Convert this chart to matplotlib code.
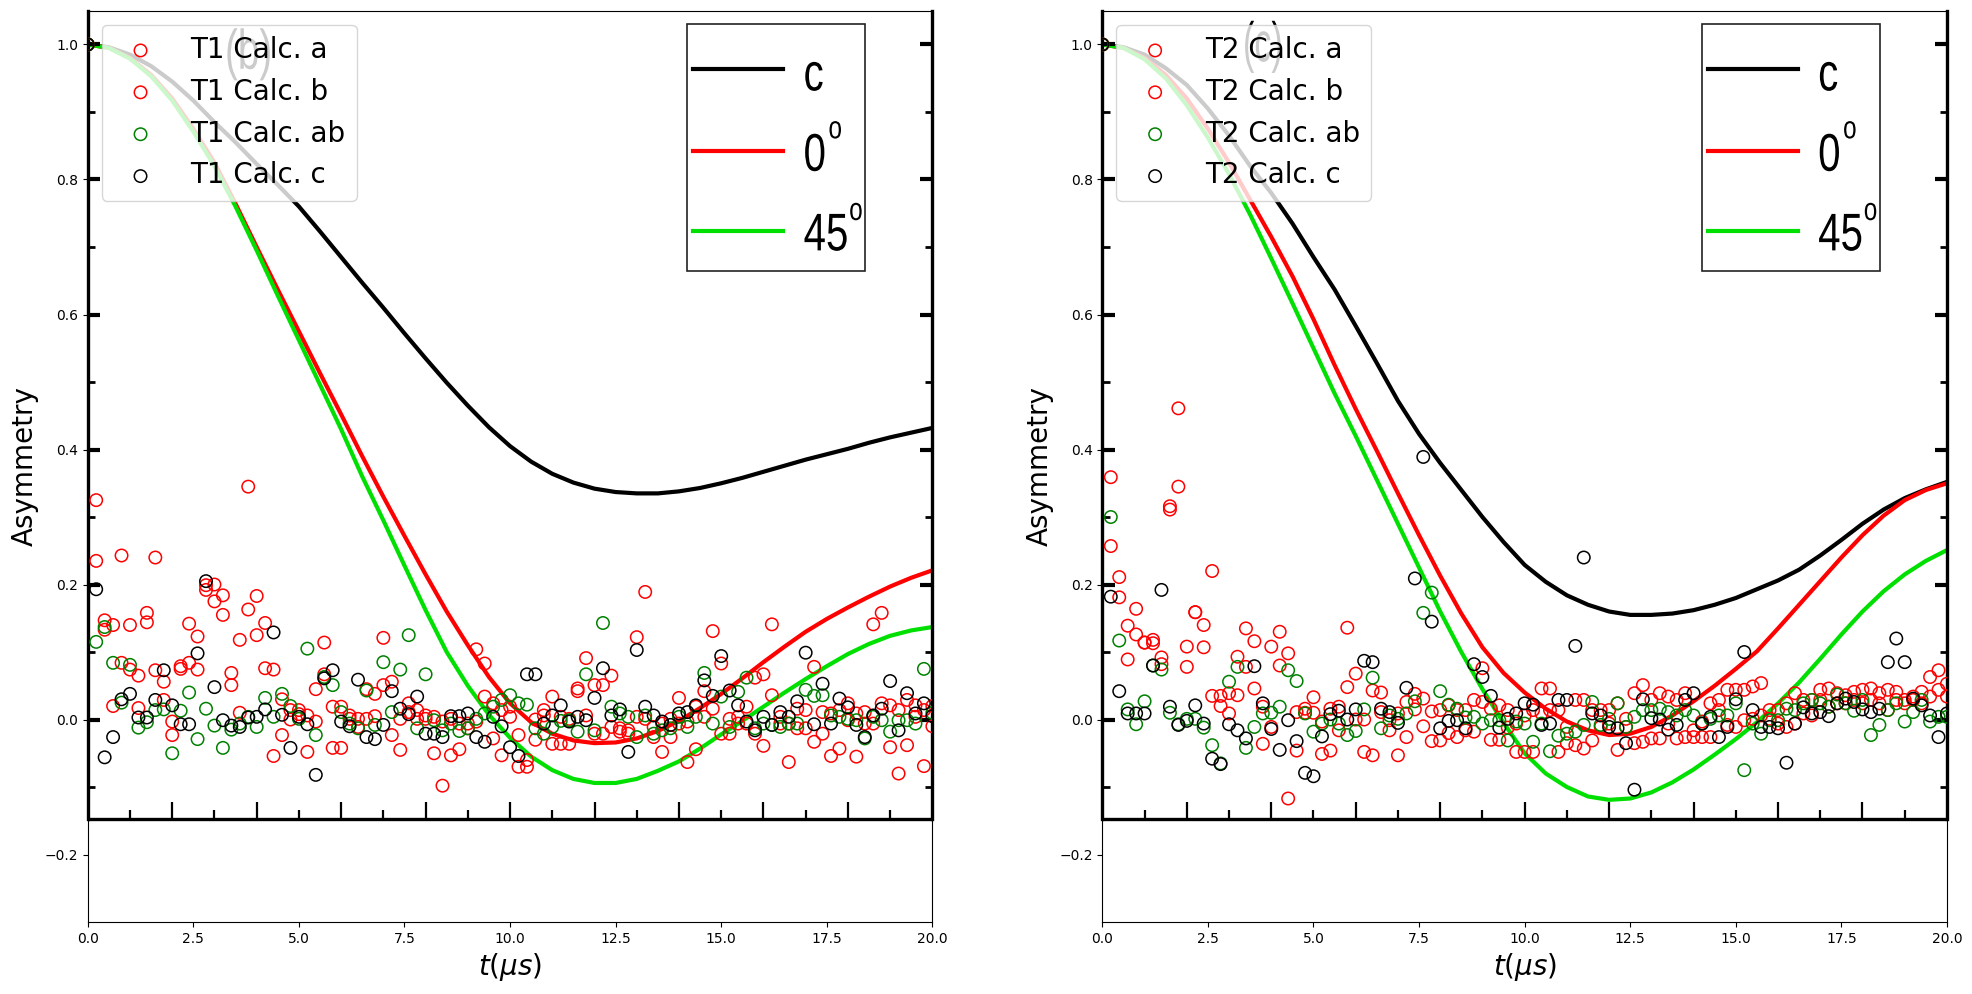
"""Muon asymmetry panels: calculated T1 / T2 points over the digitised reference figure."""

import numpy as np
import matplotlib
matplotlib.use("Agg")
import matplotlib.pyplot as plt
from matplotlib.patches import Rectangle, PathPatch
from matplotlib.textpath import TextPath
from matplotlib.font_manager import FontProperties
from matplotlib.transforms import Affine2D

# time grid of the calculated points (us)
T_US = np.linspace(0, 20, 101)

# ---- T1 calculated asymmetry (t = 0.2 ... 20.0, t = 0 is 1.0) ----
T1_A = [0.325, 0.147, 0.14, 0.243, 0.14, 0.065, 0.158, 0.24, 0.056, -0.003,
        0.079, 0.142, 0.123, 0.192, 0.2, 0.184, 0.069, 0.118, 0.345, 0.183,
        0.143, 0.074, 0.03, 0.014, 0.014, -0.048, 0.045, 0.114, 0.019, 0.019,
        0.006, 0.001, 0.045, 0.038, 0.121, 0.056, -0.045, 0.024, 0.014, 0.006,
        0.004, -0.098, -0.053, -0.044, -0.013, 0.104, 0.083, -0.028, -0.053, 0.004,
        -0.023, -0.07, 0.0, 0.014, 0.034, -0.036, -0.036, 0.046, 0.091, 0.051,
        0.051, 0.065, -0.013, -0.016, 0.122, 0.189, -0.011, -0.048, 0.001, 0.032,
        -0.063, -0.044, 0.042, 0.131, 0.083, 0.001, -0.006, -0.006, 0.062, 0.067,
        0.141, -0.006, -0.063, 0.016, 0.014, 0.078, 0.011, -0.054, -0.043, 0.024,
        -0.055, 0.011, 0.141, 0.158, -0.041, -0.08, -0.038, 0.021, -0.069, 0.02]
T1_B = [0.235, 0.133, 0.02, 0.084, 0.074, 0.017, 0.144, 0.073, 0.029, -0.023,
        0.075, 0.084, 0.074, 0.199, 0.175, 0.155, 0.051, 0.01, 0.163, 0.125,
        0.076, -0.054, -0.023, 0.0, 0.008, 0.006, -0.003, 0.067, -0.042, -0.042,
        0.001, -0.011, 0.001, 0.005, 0.051, -0.023, 0.001, 0.011, 0.001, 0.001,
        -0.05, -0.003, 0.001, -0.006, -0.006, -0.003, 0.034, 0.024, 0.014, 0.019,
        -0.07, -0.06, -0.03, 0.006, -0.036, 0.004, 0.001, 0.042, 0.006, -0.021,
        -0.021, -0.011, -0.018, -0.021, 0.004, 0.001, -0.026, -0.006, -0.026, -0.006,
        -0.003, 0.019, 0.004, 0.016, -0.021, -0.021, 0.004, 0.019, -0.021, -0.039,
        0.036, 0.004, -0.006, -0.013, -0.013, -0.033, -0.021, 0.009, 0.014, -0.001,
        0.009, -0.006, -0.006, 0.024, 0.021, 0.014, 0.029, 0.004, 0.014, -0.01]
T1_AB = [0.115, 0.137, 0.084, 0.025, 0.081, -0.012, -0.004, 0.014, 0.015, -0.05,
         0.013, 0.04, -0.029, 0.016, -0.009, -0.042, -0.015, -0.006, 0.004, -0.011,
         0.032, 0.004, 0.038, 0.02, 0.001, 0.105, -0.023, 0.063, 0.051, 0.011,
         -0.006, -0.013, 0.043, -0.008, 0.085, 0.011, 0.074, 0.125, -0.013, 0.067,
         -0.001, -0.016, -0.006, -0.017, -0.013, 0.001, 0.009, 0.019, 0.029, 0.036,
         0.024, 0.022, -0.013, -0.021, -0.011, -0.002, -0.001, -0.018, 0.067, -0.016,
         0.143, 0.019, 0.009, 0.004, -0.026, 0.006, -0.021, -0.016, -0.013, 0.004,
         -0.011, 0.004, 0.069, -0.006, 0.034, -0.011, 0.041, 0.062, -0.013, -0.006,
         -0.008, -0.011, -0.006, -0.006, 0.044, 0.035, 0.036, 0.006, 0.004, 0.001,
         -0.001, -0.028, 0.004, -0.001, -0.018, -0.001, -0.001, -0.006, 0.075, 0.01]
T1_C = [0.193, -0.056, -0.026, 0.03, 0.038, 0.003, 0.003, 0.029, 0.073, 0.021,
        -0.007, -0.007, 0.098, 0.205, 0.048, -0.001, -0.009, -0.011, 0.003, 0.004,
        0.015, 0.129, 0.007, -0.042, 0.004, -0.007, -0.082, 0.061, 0.073, -0.003,
        -0.01, 0.059, -0.026, -0.029, -0.008, 0.042, 0.016, 0.008, 0.034, -0.021,
        -0.021, -0.026, 0.005, 0.005, 0.009, -0.026, -0.033, 0.004, -0.01, -0.041,
        -0.054, 0.067, 0.067, -0.006, 0.006, 0.021, -0.003, 0.004, -0.001, 0.032,
        0.076, 0.006, 0.015, -0.048, 0.103, 0.019, 0.006, -0.003, -0.008, 0.009,
        0.011, 0.021, 0.058, 0.035, 0.094, 0.043, 0.021, -0.003, -0.016, 0.004,
        -0.008, 0.011, 0.004, 0.027, 0.099, -0.007, 0.053, -0.006, 0.031, 0.018,
        -0.008, -0.026, 0.006, 0.016, 0.057, -0.016, 0.039, 0.009, 0.024, 0.005]

# ---- T2 calculated asymmetry ----
T2_A = [0.359, 0.211, 0.139, 0.164, 0.114, 0.118, 0.092, 0.316, 0.461, 0.108,
        0.159, 0.14, 0.22, 0.035, 0.039, 0.093, 0.135, 0.116, -0.036, 0.108,
        0.13, 0.098, -0.046, 0.01, 0.033, -0.051, -0.046, 0.019, 0.136, 0.068,
        -0.048, 0.043, 0.04, -0.001, -0.053, -0.026, 0.038, 0.031, 0.012, 0.014,
        0.021, -0.026, 0.014, 0.029, 0.076, 0.016, 0.021, 0.014, -0.006, -0.048,
        0.014, 0.046, 0.046, 0.014, -0.011, 0.029, 0.029, 0.014, 0.014, 0.014,
        0.024, 0.001, 0.039, 0.051, 0.029, 0.039, 0.034, 0.029, 0.039, -0.016,
        -0.003, 0.024, 0.029, 0.044, 0.044, 0.044, 0.049, 0.054, 0.014, 0.014,
        0.024, 0.039, 0.029, 0.029, 0.044, 0.046, 0.039, 0.036, 0.041, 0.044,
        0.046, 0.039, 0.044, 0.041, 0.029, 0.034, 0.041, 0.063, 0.073, 0.053]
T2_B = [0.257, 0.181, 0.089, 0.126, 0.114, 0.113, 0.082, 0.311, 0.345, 0.078,
        0.159, 0.107, 0.035, 0.02, 0.009, 0.036, 0.078, 0.046, 0.019, -0.011,
        0.08, -0.117, 0.011, 0.016, 0.01, -0.003, 0.016, -0.016, 0.048, 0.0,
        0.0, -0.053, 0.011, -0.016, 0.009, 0.026, 0.015, -0.01, -0.032, -0.031,
        -0.02, 0.014, -0.016, -0.018, 0.026, -0.03, -0.03, -0.012, -0.048, 0.006,
        -0.048, 0.009, 0.014, -0.048, -0.035, -0.038, -0.043, -0.031, -0.011, -0.006,
        -0.045, -0.011, -0.035, -0.033, -0.028, -0.028, -0.006, -0.028, -0.026, -0.026,
        -0.026, -0.026, 0.014, -0.008, -0.011, -0.001, 0.001, 0.006, 0.001, -0.006,
        -0.011, -0.006, 0.009, 0.006, 0.029, 0.019, 0.024, 0.024, 0.029, 0.024,
        0.029, 0.024, 0.014, 0.029, 0.024, 0.029, 0.024, 0.034, 0.044, 0.034]
T2_AB = [0.3, 0.117, 0.015, -0.007, 0.027, 0.08, 0.074, 0.01, -0.007, 0.001,
         0.001, -0.012, -0.038, -0.065, 0.056, 0.078, -0.042, -0.011, 0.009, 0.01,
         0.019, 0.073, 0.057, 0.009, -0.018, -0.006, 0.0, -0.006, -0.023, -0.017,
         0.015, 0.062, -0.013, 0.006, 0.001, 0.009, 0.027, 0.158, 0.188, 0.042,
         0.022, 0.016, 0.003, 0.004, -0.006, -0.001, -0.001, -0.031, -0.003, -0.006,
         -0.033, -0.006, -0.047, -0.024, -0.021, -0.018, -0.008, 0.026, -0.008, 0.001,
         0.024, -0.011, 0.004, 0.014, 0.014, 0.016, 0.011, 0.006, 0.014, 0.006,
         -0.006, 0.001, 0.006, 0.006, 0.024, -0.075, -0.006, -0.021, -0.001, -0.001,
         0.016, 0.014, 0.024, 0.029, 0.024, 0.019, 0.037, 0.024, 0.013, 0.029,
         -0.023, -0.008, 0.014, 0.024, -0.003, 0.011, 0.029, -0.003, 0.004, 0.004]
T2_C = [0.182, 0.042, 0.009, 0.009, 0.009, 0.08, 0.192, 0.019, -0.008, -0.002,
        0.021, -0.006, -0.058, -0.066, -0.007, -0.016, -0.028, 0.079, 0.024, -0.014,
        -0.045, -0.001, -0.032, -0.079, -0.084, -0.025, 0.008, 0.013, 0.0, 0.015,
        0.087, 0.085, 0.016, 0.011, -0.005, 0.047, 0.209, 0.389, 0.145, -0.013,
        -0.002, -0.001, -0.013, 0.082, 0.063, 0.035, -0.012, 0.001, 0.009, 0.024,
        0.022, -0.008, -0.006, 0.029, 0.029, 0.109, 0.24, 0.009, 0.006, -0.011,
        -0.013, -0.035, -0.104, 0.03, 0.002, 0.0, -0.015, -0.008, 0.029, 0.039,
        -0.006, 0.004, -0.026, -0.011, 0.03, 0.1, 0.014, -0.011, -0.011, -0.013,
        -0.064, -0.006, 0.018, 0.009, 0.011, 0.005, 0.024, 0.031, 0.026, 0.015,
        0.011, 0.016, 0.085, 0.12, 0.085, 0.031, 0.021, 0.006, -0.026, 0.009]

# ---- curves of the underlying published figure (b) and (c), every 0.5 us ----
CURVE_T = [0, 0.5, 1, 1.5, 2, 2.5, 3, 3.5, 4, 4.5, 5, 5.5, 6, 6.5, 7, 7.5, 8,
           8.5, 9, 9.5, 10, 10.5, 11, 11.5, 12, 12.5, 13, 13.5, 14, 14.5, 15,
           15.5, 16, 16.5, 17, 17.5, 18, 18.5, 19, 19.5, 20]
B_C = [1.0, 0.996, 0.985, 0.968, 0.945, 0.917, 0.885, 0.855, 0.823, 0.792, 0.76,
       0.723, 0.685, 0.647, 0.61, 0.572, 0.535, 0.499, 0.465, 0.433, 0.405,
       0.382, 0.364, 0.351, 0.342, 0.337, 0.335, 0.335, 0.338, 0.343, 0.35,
       0.358, 0.367, 0.376, 0.385, 0.393, 0.401, 0.41, 0.418, 0.425, 0.432]
B_0 = [1.0, 0.995, 0.98, 0.955, 0.92, 0.875, 0.825, 0.764, 0.70, 0.637, 0.575,
       0.513, 0.452, 0.39, 0.33, 0.272, 0.215, 0.16, 0.11, 0.063, 0.024,
       -0.004, -0.021, -0.031, -0.035, -0.034, -0.028, -0.017, -0.002, 0.017, 0.038,
       0.061, 0.085, 0.108, 0.13, 0.149, 0.166, 0.182, 0.197, 0.21, 0.221]
B_45 = [1.0, 0.995, 0.979, 0.953, 0.917, 0.871, 0.82, 0.76, 0.695, 0.628, 0.562,
        0.496, 0.43, 0.36, 0.295, 0.228, 0.162, 0.10, 0.05, 0.007, -0.027,
        -0.055, -0.075, -0.088, -0.094, -0.094, -0.088, -0.076, -0.062, -0.043, -0.022,
        -0.002, 0.019, 0.04, 0.06, 0.079, 0.097, 0.112, 0.124, 0.132, 0.137]
C_C = [1.0, 0.996, 0.985, 0.965, 0.94, 0.905, 0.865, 0.82, 0.78, 0.735, 0.685,
       0.637, 0.583, 0.528, 0.472, 0.423, 0.38, 0.34, 0.30, 0.263, 0.229,
       0.204, 0.184, 0.17, 0.16, 0.155, 0.155, 0.157, 0.162, 0.17, 0.18,
       0.193, 0.206, 0.222, 0.243, 0.266, 0.29, 0.311, 0.328, 0.341, 0.352]
C_0 = [1.0, 0.995, 0.98, 0.955, 0.92, 0.875, 0.825, 0.77, 0.715, 0.657, 0.593,
       0.525, 0.46, 0.398, 0.335, 0.273, 0.213, 0.157, 0.107, 0.069, 0.04,
       0.016, -0.003, -0.016, -0.023, -0.021, -0.011, 0.006, 0.027, 0.05, 0.075,
       0.101, 0.135, 0.17, 0.205, 0.24, 0.273, 0.302, 0.325, 0.34, 0.35]
C_45 = [1.0, 0.995, 0.978, 0.95, 0.91, 0.862, 0.808, 0.748, 0.683, 0.617, 0.55,
        0.483, 0.42, 0.355, 0.29, 0.225, 0.16, 0.10, 0.045, -0.005, -0.05,
        -0.08, -0.10, -0.114, -0.119, -0.117, -0.108, -0.093, -0.074, -0.052, -0.029,
        -0.004, 0.024, 0.055, 0.09, 0.126, 0.16, 0.19, 0.215, 0.235, 0.251]

CURVE_COLORS = ["#000000", "#ff0000", "#00e000"]
OLD_FONT = FontProperties(family="Liberation Sans")


def narrowText(ax, x, y, s, em_px, squeeze=0.76):
    """Condensed glyphs of the old figure, baseline-left at data point (x, y)."""
    path = TextPath((0, 0), s, size=1, prop=OLD_FONT)
    px, py = ax.transData.transform((x, y))
    tr = Affine2D().scale(em_px * squeeze, em_px).translate(px, py)
    ax.add_patch(PathPatch(path, transform=tr, facecolor="k", lw=0, zorder=1))


def drawBackground(ax, curves, tag, tag_x, tag_y, tag_squeeze):
    """Redraw the old figure the points were laid over."""
    for ys, col in zip(curves, CURVE_COLORS):
        ax.plot(CURVE_T, ys, color=col, lw=3, zorder=1, solid_joinstyle="round")
    # frame of the old figure
    base = -0.147
    ax.plot([0, 0], [base, 1.05], color="k", lw=2.4, zorder=1, clip_on=False)
    ax.plot([20, 20], [base, 1.05], color="k", lw=2.4, zorder=1, clip_on=False)
    ax.plot([0, 20], [base, base], color="k", lw=2.4, zorder=1)
    major_y = [0.0, 0.2, 0.4, 0.6, 0.8, 1.0]
    minor_y = [-0.1, 0.1, 0.3, 0.5, 0.7, 0.9]
    ax.hlines(major_y, 0, 0.29, color="k", lw=3, zorder=1)
    ax.hlines(minor_y, 0, 0.17, color="k", lw=2, zorder=1)
    ax.hlines(major_y, 19.71, 20, color="k", lw=3, zorder=1)
    ax.hlines(minor_y, 19.83, 20, color="k", lw=2, zorder=1)
    ax.vlines([2, 4, 6, 8, 10, 12, 14, 16, 18], base, base + 0.025, color="k", lw=1.6, zorder=1)
    ax.vlines([1, 3, 5, 7, 9, 11, 13, 15, 17, 19], base, base + 0.013, color="k", lw=1.6, zorder=1)
    narrowText(ax, tag_x, tag_y, tag, 56, tag_squeeze)
    # legend box of the old figure
    ax.add_patch(Rectangle((14.19, 0.664), 4.22, 0.367, fill=False, lw=1.2,
                           ec="#222222", zorder=1))
    for yy, col in zip([0.963, 0.842, 0.723], CURVE_COLORS):
        ax.plot([14.34, 16.47], [yy, yy], color=col, lw=3, zorder=1)
    narrowText(ax, 16.95, 0.932, "c", 53)
    narrowText(ax, 16.95, 0.813, "0", 53)
    narrowText(ax, 17.54, 0.861, "o", 32)
    narrowText(ax, 16.95, 0.695, "45", 53)
    narrowText(ax, 18.03, 0.740, "o", 32)


def plotPanel(ax, series, curves, prefix, tag, tag_x, tag_y, tag_squeeze):
    ax.set_xlim(0, 20)
    ax.set_ylim(-0.3, 1.05)
    drawBackground(ax, curves, tag, tag_x, tag_y, tag_squeeze)
    names = ["Calc. a", "Calc. b", "Calc. ab", "Calc. c"]
    colors = ["red", "red", "green", "black"]
    for ys, name, col in zip(series, names, colors):
        ax.scatter(T_US, [1.0] + ys, s=80, facecolors="none", edgecolors=col,
                   linewidths=1.1, zorder=3, label="%s %s" % (prefix, name))
    ax.set_xlabel(r"$t(\mu s)$", fontsize=20)
    ax.set_ylabel("Asymmetry", fontsize=20)
    ax.legend(loc="upper left", fontsize=20)


def plotAll():
    fig = plt.figure(figsize=(19.72, 9.94), dpi=100)
    ax1 = fig.add_axes([0.0445, 0.0724, 0.4283, 0.9168])
    ax2 = fig.add_axes([0.5590, 0.0724, 0.4283, 0.9168])
    plotPanel(ax1, [T1_A, T1_B, T1_AB, T1_C], [B_C, B_0, B_45], "T1", "(b)", 3.25, 0.964, 0.69)
    plotPanel(ax2, [T2_A, T2_B, T2_AB, T2_C], [C_C, C_0, C_45], "T2", "(c)", 3.33, 0.975, 0.61)
    fig.savefig("out.png", dpi=100)


if __name__ == "__main__":
    plotAll()
